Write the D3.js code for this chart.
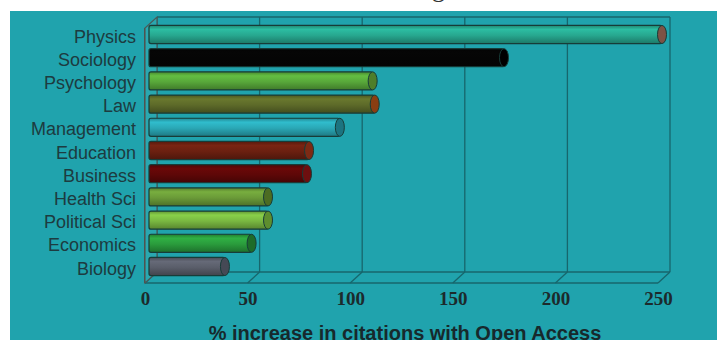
<!DOCTYPE html>
<html>
<head>
<meta charset="utf-8">
<script src="https://cdn.jsdelivr.net/npm/d3@7"></script>
<style>
  html, body { margin: 0; padding: 0; background: #ffffff; }
  svg { display: block; }
</style>
</head>
<body>
<svg id="chart" width="717" height="340"></svg>
<script>
// Disciplines and their % increase in citations with Open Access
const categories = ["Physics", "Sociology", "Psychology", "Law", "Management", "Education",
                    "Business", "Health Sci", "Political Sci", "Economics", "Biology"];
const values = [250, 173, 109, 110, 93, 78, 77, 58, 58, 50, 37];
const barColors = ["#27a78f", "#050505", "#58a83a", "#5d6a29", "#2aa7b5", "#6b2010",
                   "#5e0707", "#6a9a38", "#79b841", "#2a9b3c", "#5a5e6a"];
const capColors = ["#7d5245", "#000000", "#4e7e2a", "#8a3e12", "#1c7480", "#7d2a14",
                   "#6e0f0f", "#4c6c22", "#5e8e2e", "#1e6b29", "#454955"];
const xTicks = [0, 50, 100, 150, 200, 250];
const axisTitle = "% increase in citations with Open Access";

const svg = d3.select("#chart");
const W = 717, H = 340;

// teal panel behind the chart
svg.append("rect").attr("x", 10).attr("y", 11).attr("width", W - 10).attr("height", H - 11)
  .attr("fill", "#20a3ad");

// clipped heading above the panel
svg.append("text").attr("x", 432).attr("y", -3)
  .attr("font-family", "Liberation Serif, serif").attr("font-size", 26)
  .attr("fill", "#333").text("g");

// 3D frame geometry
const dx = 12, dy = -11;
const floorY = 283, topY = 28;
const x = d3.scaleLinear().domain([0, 250]).range([145, 658]);
const y = d3.scaleBand().domain(categories).range([22.9, 278.1]).paddingInner(0.22).paddingOuter(0.11);

const frame = svg.append("g").attr("stroke", "#17666c").attr("fill", "none").attr("stroke-width", 1.3);

// back wall gridlines
xTicks.forEach(t => {
  frame.append("line")
    .attr("x1", x(t) + dx).attr("x2", x(t) + dx)
    .attr("y1", topY + dy).attr("y2", floorY + dy);
});
// top edge of back wall
frame.append("line").attr("x1", x(0) + dx).attr("x2", x(250) + dx)
  .attr("y1", topY + dy).attr("y2", topY + dy);
// floor: back and front edges
frame.append("line").attr("x1", x(0) + dx).attr("x2", x(250) + dx)
  .attr("y1", floorY + dy).attr("y2", floorY + dy);
frame.append("line").attr("x1", x(0)).attr("x2", x(250))
  .attr("y1", floorY).attr("y2", floorY).attr("stroke-width", 1.6);
// floor depth ticks
xTicks.forEach(t => {
  frame.append("line")
    .attr("x1", x(t)).attr("x2", x(t) + dx)
    .attr("y1", floorY).attr("y2", floorY + dy);
});
// left wall
svg.append("path")
  .attr("d", `M${x(0)},${floorY} L${x(0)},${topY} L${x(0) + dx},${topY + dy} L${x(0) + dx},${floorY + dy} Z`)
  .attr("fill", "#2aa8b0").attr("stroke", "#4a5a58").attr("stroke-width", 1.2);
frame.append("line").attr("x1", x(0)).attr("x2", x(0)).attr("y1", topY).attr("y2", floorY)
  .attr("stroke", "#5a4a48").attr("stroke-width", 2);

// cylindrical bars
const defs = svg.append("defs");
barColors.forEach((c, i) => {
  const base = d3.color(c);
  const g = defs.append("linearGradient").attr("id", "bar" + i)
    .attr("x1", 0).attr("x2", 0).attr("y1", 0).attr("y2", 1);
  g.append("stop").attr("offset", "0%").attr("stop-color", base.darker(0.6));
  g.append("stop").attr("offset", "22%").attr("stop-color", base.brighter(0.35));
  g.append("stop").attr("offset", "55%").attr("stop-color", base);
  g.append("stop").attr("offset", "100%").attr("stop-color", base.darker(0.9));
});

const barOffset = 4;
const capRx = 4.5;
const bars = svg.append("g").selectAll("g").data(categories).join("g");
bars.append("rect")
  .attr("x", x(0) + barOffset)
  .attr("y", d => y(d))
  .attr("width", (d, i) => x(values[i]) - x(0))
  .attr("height", y.bandwidth())
  .attr("rx", 2)
  .attr("fill", (d, i) => `url(#bar${i})`)
  .attr("stroke", "#173c38").attr("stroke-width", 1.2);
bars.append("ellipse")
  .attr("cx", (d, i) => x(values[i]) + barOffset)
  .attr("cy", d => y(d) + y.bandwidth() / 2)
  .attr("rx", capRx)
  .attr("ry", y.bandwidth() / 2)
  .attr("fill", (d, i) => capColors[i])
  .attr("stroke", "#173c38").attr("stroke-width", 1);

// category labels
svg.append("g").selectAll("text").data(categories).join("text")
  .attr("x", 136)
  .attr("y", d => y(d) + y.bandwidth() / 2 + 2)
  .attr("text-anchor", "end")
  .attr("dominant-baseline", "central")
  .attr("font-family", "Liberation Sans, Arial, sans-serif")
  .attr("font-size", 18)
  .attr("fill", "#1d3b40")
  .text(d => d);

// value axis tick labels
const axis = d3.axisBottom(x).tickValues(xTicks).tickSize(0).tickPadding(0);
const axisG = svg.append("g").attr("transform", `translate(0, ${floorY + 8})`).call(axis);
axisG.select(".domain").remove();
axisG.selectAll("text")
  .attr("dy", "0.75em")
  .attr("font-family", "Liberation Serif, Times New Roman, serif")
  .attr("font-weight", "bold")
  .attr("font-size", 19)
  .attr("fill", "#1c2a2c");

// axis title
svg.append("text")
  .attr("x", 405).attr("y", 340)
  .attr("text-anchor", "middle")
  .attr("font-family", "Liberation Sans, Arial, sans-serif")
  .attr("font-weight", "bold")
  .attr("font-size", 20)
  .attr("fill", "#17292c")
  .text(axisTitle);
</script>
</body>
</html>
